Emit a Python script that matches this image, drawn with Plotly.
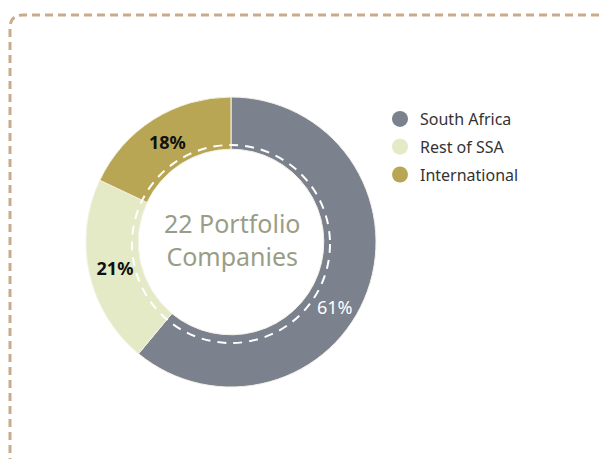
import plotly.graph_objects as go

# ---- data ----
categories = ["South Africa", "Rest of SSA", "International"]
values = [61, 21, 18]
label_texts = ["", "<b>21%</b>", "<b>18%</b>"]
big_label = "61%"
colors = ["#7b818d", "#e4e9c6", "#b9a654"]
text_colors = ["#ffffff", "#111111", "#111111"]
center_title = "22 Portfolio<br>Companies"

W, H = 611, 459
OX, OY = 8, 8  # page body margin compensation
cx, cy, R = 231, 242, 145
dash_r = 99
FONT = "Noto Sans, Open Sans, sans-serif"

def px(x):
    return (x - OX) / W

def py(y):
    return 1 - (y - OY) / H

fig = go.Figure()

fig.add_trace(go.Pie(
    labels=categories,
    values=values,
    text=label_texts,
    textinfo="text",
    textposition="inside",
    insidetextorientation="horizontal",
    textfont=dict(family=FONT, size=18, color=text_colors),
    marker=dict(colors=colors, line=dict(color="#f4f1e6", width=1)),
    hole=0.64,
    sort=False,
    direction="clockwise",
    rotation=0,
    showlegend=False,
    domain=dict(x=[px(cx - R), px(cx + R)], y=[py(cy + R), py(cy - R)]),
))

# legend entries with circular markers
for name, col in zip(categories, colors):
    fig.add_trace(go.Scatter(
        x=[None], y=[None], mode="markers", name=name,
        legendgroup=name,
        marker=dict(symbol="circle", size=17, color=col),
        showlegend=True,
    ))

# dashed white ring inside donut
fig.add_shape(type="circle", xref="paper", yref="paper",
              x0=px(cx - dash_r), x1=px(cx + dash_r),
              y0=py(cy + dash_r + 2), y1=py(cy - dash_r + 2),
              line=dict(color="white", width=2, dash="9px,7px"), layer="above")

# dashed border with rounded top-left corner
path = (f"M {px(10)},{py(H + 20)} L {px(10)},{py(28)} "
        f"Q {px(10)},{py(15)} {px(23)},{py(15)} L {px(W + 20)},{py(15)}")
fig.add_shape(type="path", xref="paper", yref="paper", path=path,
              line=dict(color="#c9ab8c", width=3, dash="8px,5px"), layer="above")

fig.add_annotation(x=px(cx + 1), y=py(239), xref="paper", yref="paper",
                   text=center_title, showarrow=False,
                   font=dict(family=FONT, size=25, color="#9a9d85"),
                   align="center")

fig.add_annotation(x=px(335), y=py(307), xref="paper", yref="paper",
                   text=big_label, showarrow=False,
                   font=dict(family=FONT, size=18, color="#ffffff"))

fig.update_layout(
    width=W, height=H,
    margin=dict(l=0, r=0, t=0, b=0),
    paper_bgcolor="white", plot_bgcolor="white",
    xaxis=dict(visible=False), yaxis=dict(visible=False),
    legend=dict(x=px(380), y=py(102), xanchor="left", yanchor="top",
                font=dict(family=FONT, size=16, color="#333333"),
                tracegroupgap=4, bgcolor="rgba(0,0,0,0)"),
)

fig.write_html("out.html")
